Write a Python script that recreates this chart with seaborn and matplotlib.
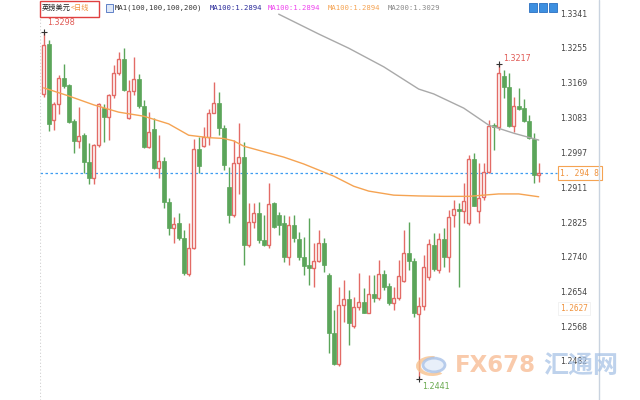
import pandas as pd
import matplotlib
matplotlib.use("Agg")
import matplotlib.pyplot as plt
import seaborn as sns
from matplotlib.patches import Rectangle, Circle, Wedge

sns.set_theme(style="white")
plt.rcParams['font.family'] = ['Noto Sans CJK SC', 'DejaVu Sans']

# ==========================================================
# DATA (GBP/USD daily candles)
# ==========================================================

opens = [1.3143, 1.3267, 1.3080, 1.3118, 1.3184, 1.3166, 1.3077, 1.3028, 1.3042, 1.2977,
         1.2936, 1.3018, 1.3109, 1.3088, 1.3141, 1.3195, 1.3230, 1.3084, 1.3151, 1.3181,
         1.3114, 1.3014, 1.3057, 1.2960, 1.2978, 1.2878, 1.2812, 1.2824, 1.2787, 1.2699,
         1.2763, 1.3008, 1.3015, 1.3038, 1.3098, 1.3122, 1.3059, 1.2915, 1.2845, 1.2974,
         1.2987, 1.2771, 1.2828, 1.2849, 1.2783, 1.2771, 1.2874, 1.2845, 1.2824, 1.2742,
         1.2820, 1.2785, 1.2742, 1.2721, 1.2713, 1.2731, 1.2775, 1.2697, 1.2553, 1.2478,
         1.2622, 1.2637, 1.2571, 1.2617, 1.2631, 1.2603, 1.2651, 1.2639, 1.2699, 1.2669,
         1.2627, 1.2639, 1.2682, 1.2750, 1.2732, 1.2600, 1.2620, 1.2692, 1.2772, 1.2709,
         1.2785, 1.2740, 1.2845, 1.2859, 1.2855, 1.2824, 1.2983, 1.2855, 1.2890, 1.2950,
         1.3067, 1.3062, 1.3188, 1.3162, 1.3065, 1.3114, 1.3109, 1.3078, 1.3032, 1.2944]

closes = [1.3265, 1.3070, 1.3118, 1.3183, 1.3164, 1.3075, 1.3028, 1.3040, 1.2975, 1.2936,
          1.3018, 1.3118, 1.3088, 1.3141, 1.3195, 1.3230, 1.3153, 1.3151, 1.3181, 1.3114,
          1.3014, 1.3051, 1.2960, 1.2978, 1.2878, 1.2812, 1.2823, 1.2787, 1.2701, 1.2763,
          1.3007, 1.2966, 1.3038, 1.3096, 1.3122, 1.3059, 1.2968, 1.2845, 1.2974, 1.2987,
          1.2771, 1.2828, 1.2849, 1.2783, 1.2771, 1.2872, 1.2816, 1.2820, 1.2742, 1.2820,
          1.2787, 1.2742, 1.2719, 1.2713, 1.2731, 1.2775, 1.2721, 1.2553, 1.2478, 1.2622,
          1.2637, 1.2577, 1.2617, 1.2631, 1.2603, 1.2651, 1.2639, 1.2699, 1.2668, 1.2627,
          1.2639, 1.2694, 1.2750, 1.2732, 1.2602, 1.2620, 1.2717, 1.2773, 1.2711, 1.2785,
          1.2742, 1.2841, 1.2859, 1.2854, 1.2880, 1.2983, 1.2868, 1.2886, 1.2950, 1.3065,
          1.3062, 1.3196, 1.3162, 1.3065, 1.3114, 1.3106, 1.3078, 1.3034, 1.2944, 1.2948]

highs = [1.3298, 1.3277, 1.3125, 1.3191, 1.3217, 1.3168, 1.3081, 1.3112, 1.3047, 1.3022,
         1.3020, 1.3121, 1.3118, 1.3145, 1.3215, 1.3248, 1.3258, 1.3178, 1.3236, 1.3192,
         1.3129, 1.3099, 1.3084, 1.3042, 1.2989, 1.2887, 1.2841, 1.2849, 1.2808, 1.2826,
         1.3032, 1.3038, 1.3063, 1.3108, 1.3174, 1.3149, 1.3067, 1.2963, 1.3030, 1.3071,
         1.3026, 1.2874, 1.2875, 1.2878, 1.2845, 1.2923, 1.2878, 1.2853, 1.2845, 1.2842,
         1.2845, 1.2804, 1.2791, 1.2837, 1.2775, 1.2808, 1.2788, 1.2701, 1.2610, 1.2668,
         1.2684, 1.2660, 1.2643, 1.2701, 1.2664, 1.2697, 1.2697, 1.2734, 1.2709, 1.2676,
         1.2668, 1.2734, 1.2808, 1.2828, 1.2739, 1.2643, 1.2746, 1.2785, 1.2800, 1.2800,
         1.2813, 1.2857, 1.2882, 1.2874, 1.2923, 1.2993, 1.2997, 1.2973, 1.2973, 1.3080,
         1.3071, 1.3217, 1.3203, 1.3195, 1.3137, 1.3158, 1.3131, 1.3092, 1.3047, 1.2974]

lows = [1.3137, 1.3052, 1.3055, 1.3094, 1.3158, 1.3071, 1.2999, 1.3011, 1.2948, 1.2921,
        1.2921, 1.3014, 1.3026, 1.3030, 1.3135, 1.3191, 1.3151, 1.3081, 1.3141, 1.3109,
        1.3010, 1.3010, 1.2958, 1.2936, 1.2863, 1.2795, 1.2775, 1.2783, 1.2697, 1.2694,
        1.2761, 1.2949, 1.3013, 1.3018, 1.3096, 1.3042, 1.2956, 1.2824, 1.2841, 1.2898,
        1.2721, 1.2766, 1.2813, 1.2775, 1.2768, 1.2763, 1.2812, 1.2795, 1.2729, 1.2721,
        1.2779, 1.2734, 1.2697, 1.2672, 1.2668, 1.2729, 1.2705, 1.2503, 1.2474, 1.2472,
        1.2581, 1.2524, 1.2565, 1.2610, 1.2602, 1.2602, 1.2631, 1.2635, 1.2660, 1.2622,
        1.2610, 1.2635, 1.2679, 1.2709, 1.2594, 1.2441, 1.2610, 1.2684, 1.2706, 1.2702,
        1.2717, 1.2705, 1.2816, 1.2666, 1.2824, 1.2820, 1.2867, 1.2824, 1.2882, 1.2949,
        1.3005, 1.3055, 1.3133, 1.3062, 1.3051, 1.3104, 1.3075, 1.3032, 1.2925, 1.2927]

# moving averages (at a few candles)
ma100_idx = [0, 5, 10, 15, 20, 25, 29, 33, 36, 38, 40, 45, 48, 52, 58, 62, 65, 70, 75, 80, 85, 88, 91, 95, 99]
ma100_val = [1.3159, 1.3139, 1.3117, 1.3099, 1.3089, 1.3070, 1.3042, 1.3036, 1.3034, 1.3028,
             1.3015, 1.2998, 1.2988, 1.2971, 1.2941, 1.2916, 1.2904, 1.2894, 1.2892, 1.2891,
             1.2891, 1.2894, 1.2897, 1.2897, 1.2890]

ma200_idx = [47, 55, 61, 68, 75, 78, 84, 89, 94, 99]
ma200_val = [1.3341, 1.3292, 1.3257, 1.3211, 1.3156, 1.3144, 1.3109, 1.3067, 1.3047, 1.3030]

price_ticks = [1.3341, 1.3255, 1.3169, 1.3083, 1.2997, 1.2911, 1.2825, 1.2740, 1.2654, 1.2568, 1.2482]
last_price = 1.2948
range_low_label = 1.2627

RED = "#e36b66"
GREEN = "#5ba55a"

df = pd.DataFrame({"open": opens, "high": highs, "low": lows, "close": closes})
df["i"] = range(len(df))
up = df[df["close"] >= df["open"]]
down = df[df["close"] < df["open"]]

# ==========================================================
# CHART
# ==========================================================

fig = plt.figure(figsize=(6.4, 4), dpi=100)
ax = fig.add_axes([40 / 640, 0, 559 / 640, 1])
ax.set_xlim(-0.74, 111.06)
ax.set_ylim(1.2388, 1.3376)
ax.axis("off")

# left dotted border, right border
ax.axvline(-0.74, color="#d0d0d0", lw=0.8, ls=(0, (1, 2)))
fig.add_artist(plt.Line2D([599 / 640, 599 / 640], [0, 1], color="#c9d3df", lw=1))

# candles
ax.vlines(up["i"], up["low"], up["high"], color=RED, lw=1, zorder=2)
ax.bar(up["i"], up["close"] - up["open"], bottom=up["open"], width=0.7,
       facecolor="white", edgecolor=RED, lw=1, zorder=3)
ax.vlines(down["i"], down["low"], down["high"], color=GREEN, lw=1, zorder=2)
ax.bar(down["i"], down["open"] - down["close"], bottom=down["close"], width=0.75,
       color=GREEN, edgecolor=GREEN, lw=0.5, zorder=3)

# moving averages
sns.lineplot(x=ma100_idx, y=ma100_val, ax=ax, color="#f5a352", lw=1, zorder=4)
sns.lineplot(x=ma200_idx, y=ma200_val, ax=ax, color="#a9a9a9", lw=1, zorder=4)

# last price
ax.hlines(last_price, -0.74, 102.6, color="#3d9cf0", lw=0.9, ls=(0, (2, 2)), zorder=1)
ax.text(103.3, last_price, "1. 294 8", color="#f0923c", fontsize=5.8, va="center", ha="left",
        family="DejaVu Sans Mono",
        bbox=dict(boxstyle="square,pad=0.3", fc="white", ec="#f5a352", lw=0.8))

# price scale
for p in price_ticks:
    ax.text(103.3, p, f"{p:.4f}", fontsize=5.6, color="#444444", va="center", ha="left",
            family="DejaVu Sans")
ax.text(103.3, range_low_label - 0.0013, f"{range_low_label:.4f}", fontsize=5.6, color="#f0923c",
        va="center", ha="left", family="DejaVu Sans Mono",
        bbox=dict(boxstyle="square,pad=0.3", fc="white", ec="#f0f0f0", lw=0.6))

# extreme markers
hi0 = df["high"].idxmax()
hi1 = 91
lo0 = df["low"].idxmin()
for idx, val in [(hi0, highs[hi0]), (hi1, highs[hi1]), (lo0, lows[lo0])]:
    ax.plot(idx, val, marker="+", color="#333333", ms=4, mew=0.8, zorder=5)
ax.text(hi0 + 0.7, highs[hi0] + 0.0012, f"{highs[hi0]:.4f}", color="#e05a55", fontsize=5.8,
        va="bottom", family="DejaVu Sans")
ax.text(hi1 + 0.9, highs[hi1] + 0.0004, f"{highs[hi1]:.4f}", color="#e05a55", fontsize=5.8,
        va="bottom", family="DejaVu Sans")
ax.text(lo0 + 0.7, lows[lo0] - 0.0008, f"{lows[lo0]:.4f}", color="#6aaa50", fontsize=5.8,
        va="top", family="DejaVu Sans")

# header
ytop = 1 - 8 / 400
fig.text(42 / 640, ytop, "英镑美元", fontsize=5.2, color="#222222", va="center")
fig.text(71 / 640, ytop, "<日线", fontsize=5.2, color="#f0923c", va="center")
fig.add_artist(Rectangle((40 / 640, 1 - 17 / 400), 59 / 640, 16 / 400, transform=fig.transFigure,
                         fill=False, ec="#e04040", lw=1))
fig.add_artist(Rectangle((106 / 640, 1 - 12 / 400), 7 / 640, 8 / 400, transform=fig.transFigure,
                         fc="#dfe8f7", ec="#4a6fc0", lw=0.6))
fig.text(115 / 640, ytop, "MA1(100,100,100,200)", fontsize=5.2, color="#333333", va="center",
         family="DejaVu Sans Mono")
fig.text(210 / 640, ytop, "MA100:1.2894", fontsize=5.2, color="#2a2a9a", va="center",
         family="DejaVu Sans Mono")
fig.text(268 / 640, ytop, "MA100:1.2894", fontsize=5.2, color="#ee44ee", va="center",
         family="DejaVu Sans Mono")
fig.text(328 / 640, ytop, "MA100:1.2894", fontsize=5.2, color="#f5a352", va="center",
         family="DejaVu Sans Mono")
fig.text(388 / 640, ytop, "MA200:1.3029", fontsize=5.2, color="#888888", va="center",
         family="DejaVu Sans Mono")
for bx in [529, 539, 549]:
    fig.add_artist(Rectangle((bx / 640, 1 - 12 / 400), 8 / 640, 9 / 400, transform=fig.transFigure,
                             fc="#3d8fe0", ec="#2a6fc0", lw=0.6))

# watermark
fig.add_artist(Wedge((432 / 640, 1 - 366 / 400), 16 / 640, 80, 310, width=5 / 640,
                     transform=fig.transFigure, fc="#f7c28f", ec="none", alpha=0.8))
fig.add_artist(Circle((434 / 640, 1 - 365 / 400), 11 / 640, transform=fig.transFigure,
                      fc="#e3ecf8", ec="#a9c2e8", lw=2, alpha=0.8))
fig.text(455 / 640, 1 - 366 / 400, "FX678", fontsize=16.5, fontweight="bold", color="#f7b98f",
         alpha=0.75, va="center", family="DejaVu Sans")
fig.text(543 / 640, 1 - 366 / 400, "汇通网", fontsize=18, fontweight="bold", color="#a8c3e6",
         alpha=0.75, va="center")

plt.savefig("out.png", dpi=100)
